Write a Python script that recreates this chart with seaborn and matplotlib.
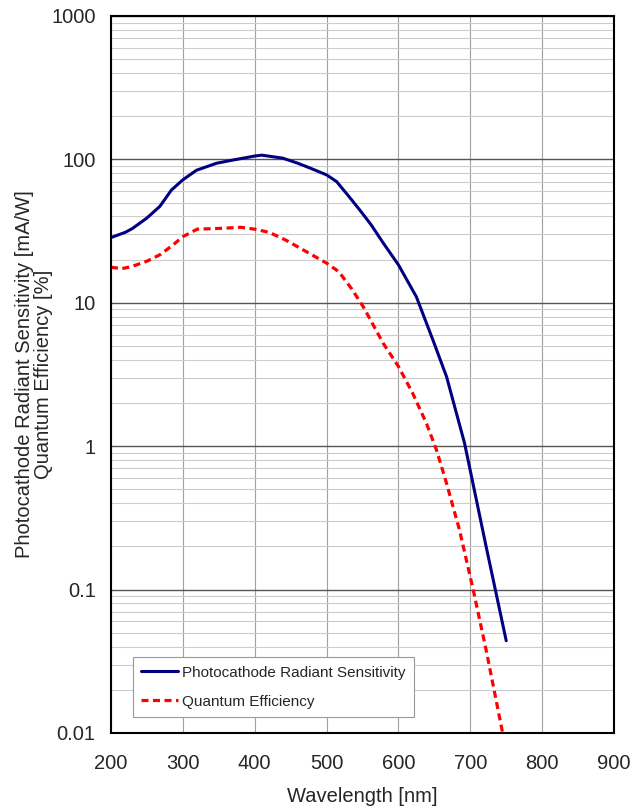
import matplotlib
matplotlib.use('Agg')
import matplotlib.pyplot as plt
import matplotlib.ticker as mticker
import pandas as pd
import seaborn as sns

# values
wl_sens = [200, 220, 230, 250, 268, 284, 300, 319, 347, 370, 400, 410, 439, 460,
           477, 500, 514, 530, 546, 562, 578, 600, 625, 648, 667, 692, 722, 750]
sensitivity = [28.5, 31, 33, 39, 47, 61, 72, 84, 94, 99, 105.5, 107, 102, 94,
               87, 78, 70, 56, 44.5, 35, 26.5, 18.4, 11, 5.5, 3.05, 1.05, 0.2, 0.044]

wl_qe = [200, 215, 229, 250, 268, 285, 300, 320, 350, 381, 400, 420, 443, 470,
         500, 514, 519, 535, 551, 579, 600, 620, 639, 653, 667, 685, 704, 722, 745]
qe = [17.7, 17.3, 17.9, 19.5, 21.6, 25, 28.9, 32.6, 33, 33.6, 32.6, 31, 27.4, 23,
      18.9, 16.9, 16, 12.5, 9.4, 5.2, 3.6, 2.33, 1.44, 0.94, 0.55, 0.26, 0.1, 0.038, 0.01]

y_ticks = [0.01, 0.1, 1, 10, 100, 1000]
y_labels = ['0.01', '0.1', '1', '10', '100', '1000']

df_sens = pd.DataFrame({'wl': wl_sens, 'val': sensitivity})
df_qe = pd.DataFrame({'wl': wl_qe, 'val': qe})

sns.set_style('white')
plt.rcParams['font.family'] = ['Liberation Sans', 'DejaVu Sans']

fig = plt.figure(figsize=(6.34, 8.07), dpi=100)
ax = fig.add_axes([0.175, 0.0917, 0.7935, 0.8885])

sns.lineplot(data=df_sens, x='wl', y='val', ax=ax, color='#000080', linewidth=2.2,
             label='Photocathode Radiant Sensitivity', sort=False)
sns.lineplot(data=df_qe, x='wl', y='val', ax=ax, color='#ff0000', linewidth=2.3,
             linestyle=(0, (2.2, 1.4)), label='Quantum Efficiency', sort=False)

ax.set_yscale('log')
ax.set_xlim(200, 900)
ax.set_ylim(0.01, 1000)

ax.set_xticks(range(200, 901, 100))
ax.xaxis.set_minor_locator(mticker.MultipleLocator(10))
ax.set_yticks(y_ticks)
ax.set_yticklabels(y_labels)
ax.yaxis.set_minor_locator(mticker.LogLocator(base=10, subs=range(2, 10)))
ax.yaxis.set_minor_formatter(mticker.NullFormatter())

ax.grid(True, which='major', axis='y', color='#555555', linewidth=1.0)
ax.grid(True, which='minor', axis='y', color='#cccccc', linewidth=0.8)
ax.grid(True, which='major', axis='x', color='#a0a0a0', linewidth=0.8)

ax.tick_params(axis='x', which='major', direction='in', length=6, width=1,
               labelsize=14.5, pad=15, color='black')
ax.tick_params(axis='x', which='minor', direction='in', length=3, width=0.8, color='black')
ax.tick_params(axis='y', which='major', direction='in', length=6, width=1,
               labelsize=14.5, pad=11, color='black')
ax.tick_params(axis='y', which='minor', length=0)

for s in ax.spines.values():
    s.set_color('black')
    s.set_linewidth(1.5)

ax.set_xlabel('Wavelength [nm]', fontsize=14.5, labelpad=10)
ax.set_ylabel('Photocathode Radiant Sensitivity [mA/W]\nQuantum Efficiency [%]',
              fontsize=14.5, labelpad=-1, linespacing=1.0)

leg = ax.legend(loc='lower left', bbox_to_anchor=(0.044, 0.022), borderaxespad=0,
                fontsize=11, frameon=True, fancybox=False, edgecolor='#999999',
                framealpha=1, handlelength=2.4, handletextpad=0.25,
                borderpad=0.55, labelspacing=1.0)
leg.get_frame().set_linewidth(0.8)

fig.savefig('out.png', dpi=100)
